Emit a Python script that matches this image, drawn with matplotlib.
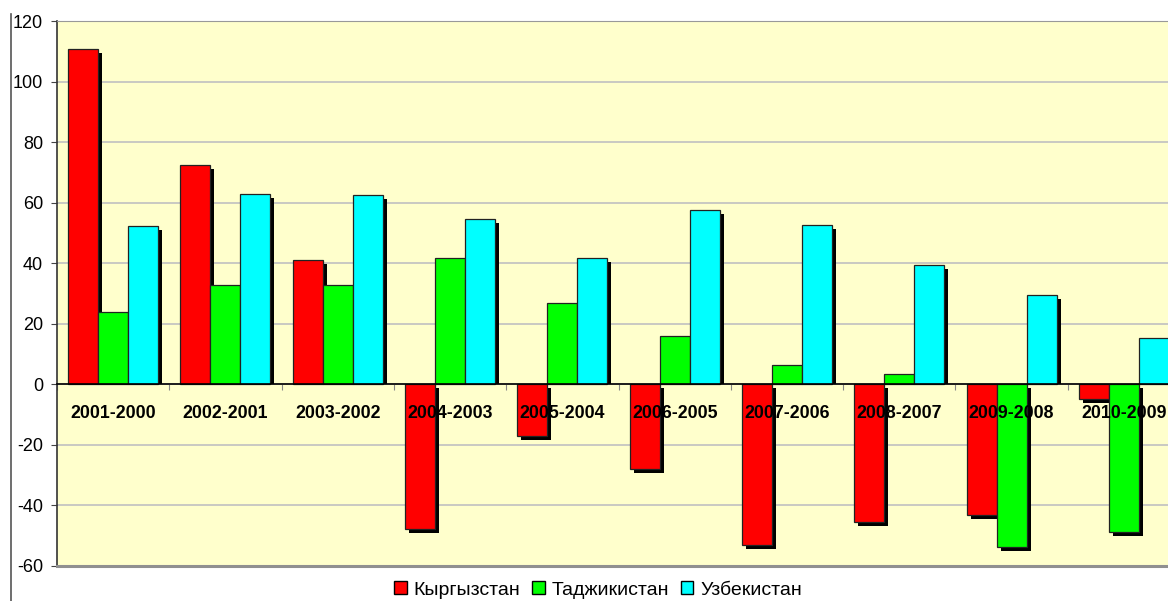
import numpy as np
import matplotlib
matplotlib.use('Agg')
import matplotlib.pyplot as plt
from matplotlib.lines import Line2D
from matplotlib.patches import Patch

plt.rcParams['font.family'] = ['Liberation Sans', 'DejaVu Sans']
plt.rcParams['axes.unicode_minus'] = False

periods = ['2001-2000', '2002-2001', '2003-2002', '2004-2003', '2005-2004',
           '2006-2005', '2007-2006', '2008-2007', '2009-2008', '2010-2009']
kyrgyzstan = [110.7, 72.5, 41.1, -47.9, -17.1, -27.9, -53.1, -45.4, -43.2, -4.8]
tajikistan = [23.9, 32.8, 32.8, 41.7, 27.0, 15.8, 6.4, 3.5, -53.7, -48.9]
uzbekistan = [52.4, 63.0, 62.6, 54.7, 41.8, 57.7, 52.5, 39.5, 29.4, 15.2]

series_names = ['Кыргызстан', 'Таджикистан', 'Узбекистан']
series_colors = ['#ff0000', '#00ff00', '#00ffff']

fig = plt.figure(figsize=(11.68, 6.01), dpi=100, facecolor='white')
# plot area runs past the right edge of the picture, like the original
ax = fig.add_axes([57 / 1168, 1 - 566 / 601, 1123 / 1168, 545 / 601])
ax.set_facecolor('#ffffcc')

x = np.arange(len(periods))
width = 0.267
# excel-style drop shadow, about 4px right and 4px down
shadow_dx = 4 / 112.3
shadow_dy = 4 / 3.03

for i, (vals, color) in enumerate(zip([kyrgyzstan, tajikistan, uzbekistan], series_colors)):
    vals = np.array(vals)
    pos = x + (i - 1) * width
    sh_top = np.where(vals > 0, vals - shadow_dy, -shadow_dy)
    sh_bot = np.where(vals > 0, 0, vals - shadow_dy)
    ax.bar(pos + shadow_dx, sh_top - sh_bot, width, bottom=sh_bot,
           color='black', linewidth=0, zorder=2 + i * 0.2)
    ax.bar(pos, vals, width, color=color, edgecolor='#222222',
           linewidth=0.9, zorder=2.1 + i * 0.2)

ax.set_xlim(-0.5, len(periods) - 0.5)
ax.set_ylim(-60, 120)
ax.set_yticks(np.arange(-60, 121, 20))
ax.yaxis.grid(True, color='#c0c0c0', linewidth=1.2, zorder=0)
ax.set_axisbelow(True)
ax.tick_params(axis='y', labelsize=13, length=4, color='#444444', pad=6)

# category axis sits on the zero line, ticks between groups
ax.spines['bottom'].set_position(('data', 0))
ax.spines['bottom'].set_color('black')
ax.spines['bottom'].set_linewidth(1.2)
ax.spines['bottom'].set_zorder(3)
ax.set_xticks(np.arange(-0.5, len(periods), 1.0))
ax.set_xticklabels([])
ax.tick_params(axis='x', length=4, color='#888888', direction='out')

ax.spines['left'].set_color('#333333')
ax.spines['left'].set_linewidth(1.2)
ax.spines['right'].set_visible(False)
ax.spines['top'].set_color('#999999')
ax.axhline(-60, color='#909090', linewidth=2.2, clip_on=False, zorder=3)

for xi, lab in zip(x, periods):
    ax.text(xi, -9.5, lab, ha='center', va='center', fontsize=12.8,
            fontweight='bold', zorder=5)

# chart area border on the far left
fig.add_artist(Line2D([11 / 1168, 11 / 1168], [0, 1 - 14 / 601],
                      color='#555555', linewidth=1.2))

handles = [Patch(facecolor=c, edgecolor='black', linewidth=1.0) for c in series_colors]
fig.legend(handles, series_names, loc='center', bbox_to_anchor=(598 / 1168, 1 - 590 / 601),
           ncol=3, frameon=False, fontsize=14, handlelength=0.65, handleheight=0.65,
           handletextpad=0.35, columnspacing=0.6, borderpad=0)

fig.savefig('out.png', dpi=100, facecolor='white')
